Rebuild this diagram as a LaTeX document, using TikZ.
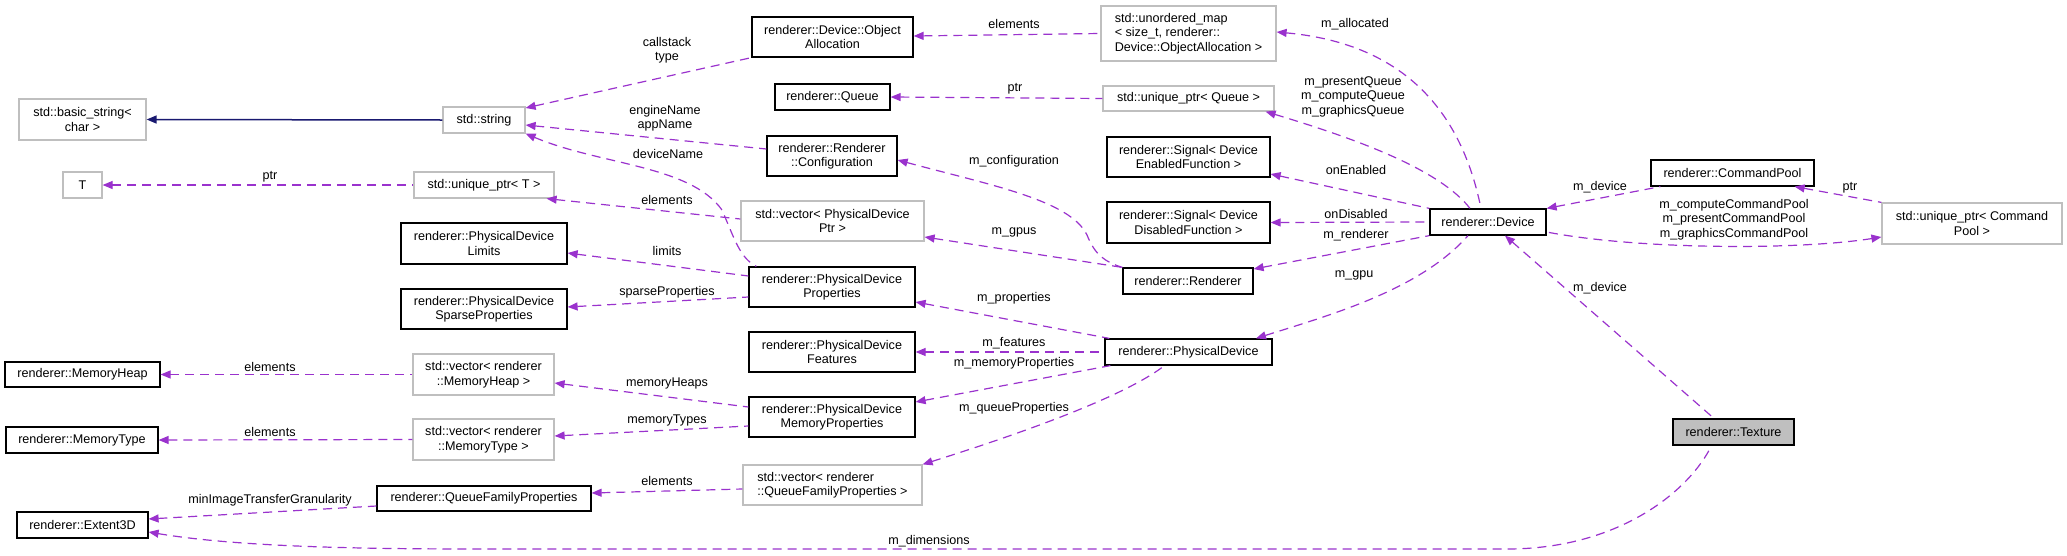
\documentclass[tikz,border=0pt]{standalone}
\usepackage{fontspec}
\setmainfont{Liberation Sans}
\usepackage{tikz}
\usetikzlibrary{arrows.meta,positioning,calc}

\newcommand{\dxfont}{\fontsize{12.6}{14.5}\selectfont}
\definecolor{dxpurple}{HTML}{9A32CD}
\definecolor{dxnavy}{HTML}{191970}
\definecolor{dxgrey}{HTML}{BFBFBF}

\begin{document}
\begin{tikzpicture}[x=1pt, y=-1pt,
    >={Triangle[length=10pt,width=8pt]},
    box/.style={draw, line width=1.2pt, inner sep=0pt, font=\dxfont, align=center},
    cls/.style={box, draw=black},
    ext/.style={box, draw=dxgrey},
    focus/.style={box, draw=black, fill=dxgrey},
    uses/.style={<-, draw=dxpurple, line width=1.2pt, dash pattern=on 9pt off 6pt},
    inherit/.style={<-, draw=dxnavy, line width=1.5pt},
    lbl/.style={font=\dxfont, inner sep=0pt, align=center}]
    \useasboundingbox (0,0) rectangle (2067,555);

    % Column 1
    \node[ext, minimum width=127pt, minimum height=41pt] (basicstr) at (82.5,119.5) {std::basic\_string\textless\\char \textgreater};
    \node[ext, minimum width=39pt, minimum height=26pt] (tT) at (82.5,185) {T};
    \node[cls, minimum width=155pt, minimum height=25pt] (memHeap) at (82.5,374.5) {renderer::MemoryHeap};
    \node[cls, minimum width=152pt, minimum height=26pt] (memType) at (82,440) {renderer::MemoryType};
    \node[cls, minimum width=131pt, minimum height=26pt] (extent) at (82.5,525) {renderer::Extent3D};

    % Column 2
    \node[ext, minimum width=82pt, minimum height=26pt] (stdstr) at (484,120) {std::string};
    \node[ext, minimum width=140pt, minimum height=26pt] (uptrT) at (484,185) {std::unique\_ptr\textless{} T \textgreater};
    \node[cls, minimum width=166pt, minimum height=41pt] (pdLimits) at (484,243.5) {renderer::PhysicalDevice\\Limits};
    \node[cls, minimum width=166pt, minimum height=40pt] (pdSparse) at (484,309) {renderer::PhysicalDevice\\SparseProperties};
    \node[ext, minimum width=141pt, minimum height=41pt] (vecHeap) at (483.5,374.5) {std::vector\textless{} renderer\\::MemoryHeap \textgreater};
    \node[ext, minimum width=141pt, minimum height=41pt] (vecType) at (483.5,439.5) {std::vector\textless{} renderer\\::MemoryType \textgreater};
    \node[cls, minimum width=214pt, minimum height=25pt] (qfp) at (484,498.5) {renderer::QueueFamilyProperties};

    % Column 3
    \node[cls, minimum width=161pt, minimum height=40pt] (objAlloc) at (832.5,37) {renderer::Device::Object\\Allocation};
    \node[cls, minimum width=115pt, minimum height=26pt] (queue) at (832.5,97) {renderer::Queue};
    \node[cls, minimum width=130pt, minimum height=40pt] (config) at (832,156) {renderer::Renderer\\::Configuration};
    \node[ext, minimum width=183pt, minimum height=40pt] (vecPD) at (832.5,221) {std::vector\textless{} PhysicalDevice\\Ptr \textgreater};
    \node[cls, minimum width=166pt, minimum height=40pt] (pdProps) at (832,287) {renderer::PhysicalDevice\\Properties};
    \node[cls, minimum width=166pt, minimum height=40pt] (pdFeat) at (832,352) {renderer::PhysicalDevice\\Features};
    \node[cls, minimum width=166pt, minimum height=40pt] (pdMem) at (832,417) {renderer::PhysicalDevice\\MemoryProperties};
    \node[ext, minimum width=179pt, minimum height=40pt, align=left] (vecQFP) at (832.5,485) {std::vector\textless{} renderer\\::QueueFamilyProperties \textgreater};

    % Column 4
    \node[ext, minimum width=175pt, minimum height=55pt, align=left] (umap) at (1188.5,33.5) {std::unordered\_map\\\textless{} size\_t, renderer::\\Device::ObjectAllocation \textgreater};
    \node[ext, minimum width=171pt, minimum height=25pt] (uptrQueue) at (1188.5,98.5) {std::unique\_ptr\textless{} Queue \textgreater};
    \node[cls, minimum width=163pt, minimum height=40pt] (sigEn) at (1188.5,157) {renderer::Signal\textless{} Device\\EnabledFunction \textgreater};
    \node[cls, minimum width=163pt, minimum height=41pt] (sigDis) at (1188.5,222.5) {renderer::Signal\textless{} Device\\DisabledFunction \textgreater};
    \node[cls, minimum width=130pt, minimum height=26pt] (renderer) at (1188,281) {renderer::Renderer};
    \node[cls, minimum width=167pt, minimum height=26pt] (physDev) at (1188.5,352) {renderer::PhysicalDevice};

    % Right part
    \node[cls, minimum width=116pt, minimum height=26pt] (device) at (1488,222) {renderer::Device};
    \node[cls, minimum width=163pt, minimum height=26pt] (cmdPool) at (1732.5,173) {renderer::CommandPool};
    \node[ext, minimum width=180pt, minimum height=41pt] (uptrCmd) at (1972,223.5) {std::unique\_ptr\textless{} Command\\Pool \textgreater};
    \node[focus, minimum width=121pt, minimum height=26pt] (texture) at (1733.5,432) {renderer::Texture};

    % Inheritance
    \draw[inherit] (basicstr.east) -- (stdstr.west);

    % Members, left half
    \draw[uses] (tT.east) -- (uptrT.west);
    \node[lbl] (lPtrT) at (270,177) {ptr};
    \draw[uses] ([yshift=12pt]stdstr.east) -- (objAlloc.south west);
    \node[lbl] (lCallstack) at (667,50) {callstack\\type};
    \draw[uses] ([yshift=-5pt]stdstr.east) -- ([yshift=7pt]config.west);
    \node[lbl] (lEngine) at (665,118) {engineName\\appName};
    \draw[uses] (stdstr.south east) .. controls (600,165) and (690,165) .. (722,210)
        .. controls (735,240) and (740,258) .. ([xshift=8pt]pdProps.north west);
    \node[lbl] (lDevName) at (668,154) {deviceName};
    \draw[uses] ([xshift=-8pt]uptrT.south east) -- ([yshift=2pt]vecPD.west);
    \node[lbl] (lElemPD) at (667,200) {elements};
    \draw[uses] ([yshift=-9.5pt]pdLimits.east) -- ([yshift=11pt]pdProps.west);
    \node[lbl] (lLimits) at (667,251) {limits};
    \draw[uses] ([yshift=2pt]pdSparse.east) -- ([yshift=-10pt]pdProps.west);
    \node[lbl] (lSparse) at (667,292) {sparseProperties};
    \draw[uses] (memHeap.east) -- (vecHeap.west);
    \node[lbl] (lElemHeap) at (270,367) {elements};
    \draw[uses] (memType.east) -- (vecType.west);
    \node[lbl] (lElemType) at (270,432) {elements};
    \draw[uses] ([yshift=-8.5pt]vecHeap.east) -- ([yshift=10pt]pdMem.west);
    \node[lbl] (lHeaps) at (667,383) {memoryHeaps};
    \draw[uses] ([yshift=3.5pt]vecType.east) -- ([yshift=-9pt]pdMem.west);
    \node[lbl] (lTypes) at (667,420) {memoryTypes};
    \draw[uses] ([yshift=5.5pt]qfp.east) -- ([yshift=-4pt]vecQFP.west);
    \node[lbl] (lElemQFP) at (667,481) {elements};
    \draw[uses] ([yshift=6pt]extent.east) -- ([yshift=-7.5pt]qfp.west);
    \node[lbl] (lGran) at (270,500) {minImageTransferGranularity};

    % Members, middle
    \draw[uses] ([yshift=1pt]objAlloc.east) -- (umap.west);
    \node[lbl] (lElemMap) at (1014,24) {elements};
    \draw[uses] (queue.east) -- (uptrQueue.west);
    \node[lbl] (lPtrQueue) at (1015,89) {ptr};
    \draw[uses] ([yshift=-4pt]config.east) .. controls (990,185) and (1070,200) .. (1087,235)
        .. controls (1095,255) and (1105,262) .. (renderer.north west);
    \node[lbl] (lConfig) at (1014,161) {m\_configuration};
    \draw[uses] ([yshift=-16pt]vecPD.east) -- (renderer.north west);
    \node[lbl] (lGpus) at (1014,232) {m\_gpus};
    \draw[uses] ([yshift=-15pt]pdProps.east) -- ([xshift=5pt]physDev.north west);
    \node[lbl] (lProps) at (1014,298) {m\_properties};
    \draw[uses] (pdFeat.east) -- (physDev.west);
    \node[lbl] (lFeat) at (1014,343) {m\_features};
    \draw[uses] ([yshift=15pt]pdMem.east) -- ([xshift=6pt]physDev.south west);
    \node[lbl] (lMemProps) at (1014,363) {m\_memoryProperties};
    \draw[uses] (vecQFP.north east) .. controls (1000,440) and (1120,400) .. ([xshift=-24pt]physDev.south);
    \node[lbl] (lQueueProps) at (1014,408) {m\_queueProperties};

    % Members of the device
    \draw[uses] ([yshift=1.5pt]umap.east) .. controls (1420,45) and (1465,130) .. ([xshift=-7pt]device.north);
    \node[lbl] (lAlloc) at (1355,24) {m\_allocated};
    \draw[uses] ([xshift=-9pt]uptrQueue.south east) .. controls (1360,140) and (1440,170) .. ([xshift=-18pt]device.north);
    \node[lbl] (lQueues) at (1353,96.5) {m\_presentQueue\\m\_computeQueue\\m\_graphicsQueue};
    \draw[uses] ([yshift=-17pt]sigEn.east) -- (device.north west);
    \node[lbl] (lEnabled) at (1356,170) {onEnabled};
    \draw[uses] (sigDis.east) -- (device.west);
    \node[lbl] (lDisabled) at (1356,214) {onDisabled};
    \draw[uses] ([yshift=12pt]renderer.east) -- (device.south west);
    \node[lbl] (lRenderer) at (1356,235) {m\_renderer};
    \draw[uses] ([xshift=67.5pt]physDev.north) .. controls (1330,315) and (1420,290) .. ([xshift=-20pt]device.south);
    \node[lbl] (lGpu) at (1354,275) {m\_gpu};

    % Command pools and texture
    \draw[uses] (device.north east) -- ([xshift=10pt]cmdPool.south west);
    \node[lbl] (lDevPool) at (1600,187) {m\_device};
    \draw[uses] ([yshift=-13.5pt]uptrCmd.west) .. controls (1800,250) and (1640,250) .. ([yshift=-10pt]device.east);
    \node[lbl] (lPools) at (1734,219.5) {m\_computeCommandPool\\m\_presentCommandPool\\m\_graphicsCommandPool};
    \draw[uses] ([xshift=-20pt]cmdPool.south east) -- (uptrCmd.north west);
    \node[lbl] (lPtrCmd) at (1850,188) {ptr};
    \draw[uses] ([xshift=17pt]device.south) -- ([xshift=-19.5pt]texture.north);
    \node[lbl] (lDevTex) at (1600,288) {m\_device};
    \draw[uses] ([yshift=-7pt]extent.east) .. controls (250,549) and (400,549) .. (500,549) -- (1507,549)
        .. controls (1620,549) and (1690,490) .. ([xshift=-22pt]texture.south);
    \node[lbl] (lDims) at (929,541) {m\_dimensions};
\end{tikzpicture}
\end{document}
